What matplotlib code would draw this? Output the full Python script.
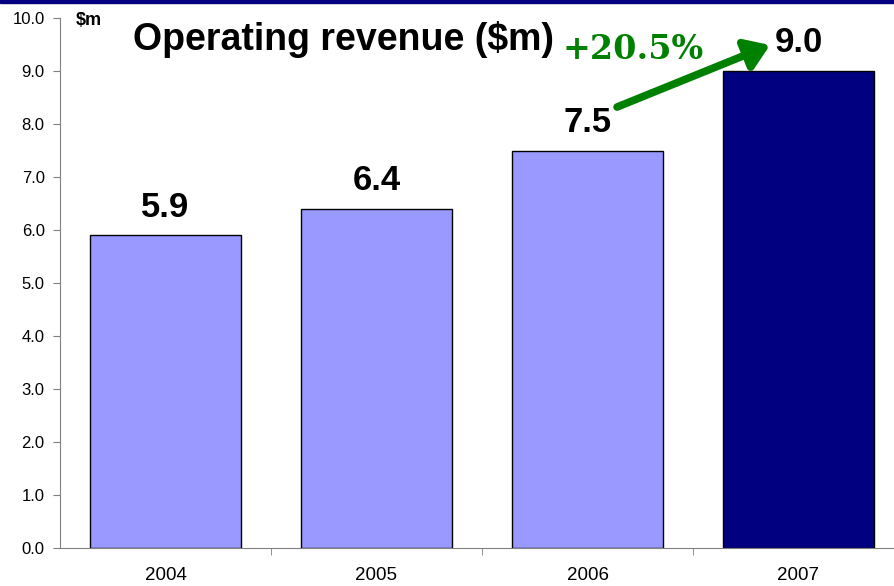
import matplotlib.pyplot as plt
from matplotlib.patches import Rectangle

years = ['2004', '2005', '2006', '2007']
revenue = [5.9, 6.4, 7.5, 9.0]
bar_colors = ['#9999FF', '#9999FF', '#9999FF', '#000080']
y_ticks = [0, 1, 2, 3, 4, 5, 6, 7, 8, 9, 10]
growth_label = '+20.5%'

plt.rcParams['font.family'] = ['Liberation Sans', 'DejaVu Sans']

W, H = 894, 586
fig = plt.figure(figsize=(W / 100, H / 100), dpi=100)
# axes: left spine at x=60, 0 at y=548, 10 at y=18, category width ~211px
ax = fig.add_axes([60 / W, 38 / H, 844 / W, 530 / H])

x = range(len(years))
ax.bar(x, revenue, width=0.716, color=bar_colors, edgecolor='black', linewidth=1)

ax.set_xlim(-0.5, 3.5)
ax.set_ylim(0, 10)
ax.set_yticks(y_ticks)
ax.set_yticklabels([f'{v:.1f}' for v in y_ticks])
ax.set_xticks(list(x))
ax.set_xticklabels(years)
ax.set_xticks([0.5, 1.5, 2.5], minor=True)
ax.tick_params(axis='x', which='major', length=0, pad=14, labelsize=13.5)
ax.tick_params(axis='x', which='minor', length=5, direction='out', color='#808080')
ax.tick_params(axis='y', length=5, direction='out', pad=6, labelsize=12, color='#808080')

for s in ['top', 'right']:
    ax.spines[s].set_visible(False)
for s in ['left', 'bottom']:
    ax.spines[s].set_color('#808080')

# value labels
for i, v in enumerate(revenue):
    ax.text(i, v + 0.22, f'{v:.1f}', ha='center', va='bottom',
            fontsize=25, fontweight='bold')

ax.text(-0.425, 10.12, '$m', ha='left', va='top', fontsize=13,
        fontweight='bold', clip_on=False)
ax.text(-0.154, 9.6, 'Operating revenue ($m)', ha='left', va='center',
        fontsize=27, fontweight='bold')

# growth arrow
ax.annotate('', xy=(2.865, 9.49), xytext=(2.14, 8.32),
            arrowprops=dict(arrowstyle='-|>,head_length=1.4,head_width=0.95',
                            color='#008000', lw=5.5, shrinkA=0, shrinkB=0))
ax.text(2.216, 9.40, growth_label, ha='center', va='center', fontsize=24,
        fontweight='bold', color='#008000', family=['DejaVu Serif'])

# dark band across the top
fig.patches.append(Rectangle((0, 1 - 3 / H), 1, 3 / H, transform=fig.transFigure,
                             color='#000080', zorder=10))

fig.savefig('out.png', dpi=100)
